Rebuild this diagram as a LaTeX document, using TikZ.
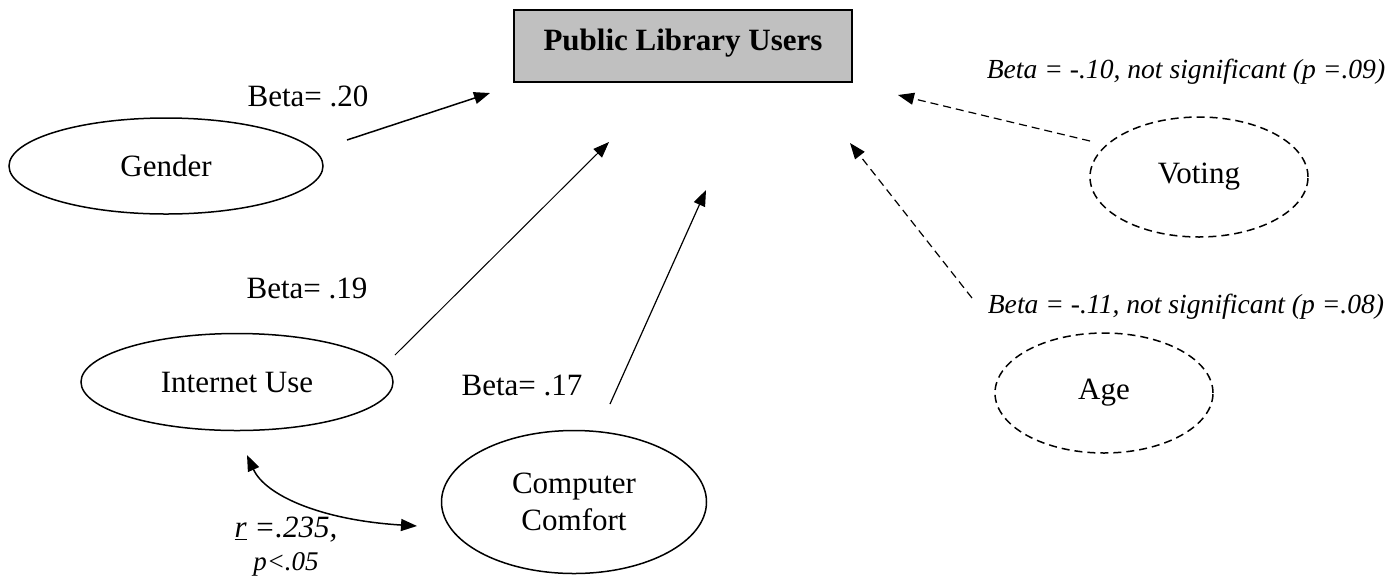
\documentclass[tikz,border=0pt]{standalone}
\usepackage{fontspec}
\setmainfont{Liberation Serif}
\usepackage{tikz}
\usetikzlibrary{arrows.meta,shapes.geometric}

\definecolor{boxgray}{RGB}{192,192,192}

\begin{document}
\begin{tikzpicture}[x=0.5pt, y=-0.5pt,
    every node/.style={font=\fontsize{15.5}{18.6}\selectfont},
    factor/.style={ellipse, draw, line width=0.75pt, inner sep=0pt},
    weakfactor/.style={factor, dash pattern=on 4pt off 2.5pt},
    coef/.style={anchor=base},
    weakcoef/.style={anchor=base, font=\fontsize{13.8}{16.5}\selectfont\itshape},
    path/.style={-{Triangle[length=8pt,width=6pt]}, line width=0.6pt},
    weakpath/.style={path, dash pattern=on 4pt off 2.5pt}]

\useasboundingbox (0,0) rectangle (1393,575);

% Outcome
\node[draw, fill=boxgray, line width=1pt, minimum width=169pt, minimum height=36pt,
      text height=10pt, text depth=6pt, font=\fontsize{15.5}{18.6}\selectfont\bfseries]
      (users) at (683,46) {Public Library Users};

% Predictors
\node[factor, minimum width=157pt, minimum height=48pt] (gender) at (166,166) {Gender};
\node[factor, minimum width=156pt, minimum height=48.5pt] (internet) at (237,382) {Internet Use};
\node[factor, minimum width=132.5pt, minimum height=71.5pt, align=center] (comfort) at (574,502) {Computer\\Comfort};
\node[weakfactor, minimum width=109pt, minimum height=60pt] (voting) at (1199,177) {Voting};
\node[weakfactor, minimum width=109pt, minimum height=60pt] (age) at (1104,393) {Age};

% Arrow ends
\coordinate (gender-out) at (347,140);
\coordinate (gender-in) at (490,93);
\coordinate (internet-out) at (395,355);
\coordinate (internet-in) at (609,142);
\coordinate (comfort-out) at (610,404);
\coordinate (comfort-in) at (706,190);
\coordinate (age-out) at (972,298);
\coordinate (age-in) at (850,143);
\coordinate (voting-out) at (1090,141);
\coordinate (voting-in) at (898,95);
\coordinate (corr-a) at (247,455);
\coordinate (corr-b) at (417,526);

% Significant paths
\draw[path, line width=0.75pt] (gender-out) -- (gender-in);
\draw[path, line width=0.5pt] (internet-out) -- (internet-in);
\draw[path] (comfort-out) -- (comfort-in);

% Not significant paths
\draw[weakpath] (voting-out) -- (voting-in);
\draw[weakpath] (age-out) -- (age-in);

% Correlation
\draw[{Triangle[length=8pt,width=6pt]}-{Triangle[length=8pt,width=6pt]}, line width=0.75pt]
    (corr-a) .. controls (265,495) and (320,520) .. (corr-b);

% Coefficients
\node[coef] (beta-gender) at (308,106) {Beta= .20};
\node[coef] (beta-internet) at (307,298) {Beta= .19};
\node[coef] (beta-comfort) at (522,395) {Beta= .17};
\node[weakcoef] (beta-voting) at (1186,78) {Beta = -.10, not significant (\textit{p} =.09)};
\node[weakcoef] (beta-age) at (1186,313) {Beta = -.11, not significant (\textit{p} =.08)};
\node[coef, align=center, font=\fontsize{15.5}{16.5}\selectfont\itshape] (corr-label) at (286,570)
    {\underline{r} =.235,\\{\fontsize{13.5}{16.5}\selectfont p<.05}};

\end{tikzpicture}
\end{document}
